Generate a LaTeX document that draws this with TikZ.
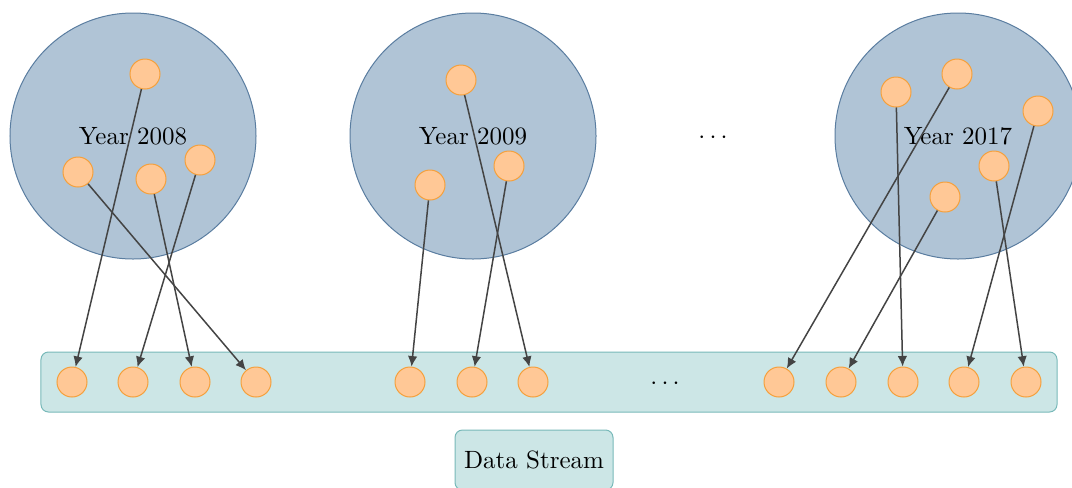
\documentclass[tikz,border=0pt]{standalone}
\usetikzlibrary{arrows.meta}
\definecolor{yearfill}{RGB}{176,196,214}
\definecolor{yeardraw}{RGB}{90,125,160}
\definecolor{dotfill}{RGB}{255,200,150}
\definecolor{dotdraw}{RGB}{245,160,60}
\definecolor{streamfill}{RGB}{204,230,230}
\definecolor{streamdraw}{RGB}{120,185,185}
\definecolor{arrowcol}{RGB}{68,68,68}
\begin{document}
\begin{tikzpicture}[x=0.4pt,y=-0.4pt,
  yearcircle/.style={circle,fill=yearfill,draw=yeardraw,line width=0.4pt,minimum size=98.4pt,inner sep=0pt},
  dot/.style={circle,fill=dotfill,draw=dotdraw,line width=0.4pt,minimum size=12pt,inner sep=0pt},
  streambox/.style={rounded corners=3pt,fill=streamfill,draw=streamdraw,line width=0.4pt},
  flow/.style={draw=arrowcol,line width=0.6pt,-{Latex[length=4.2pt,width=3.8pt]}}]
\useasboundingbox (0,0) rectangle (1072,487);
% year circles
\node[yearcircle] (y2008) at (133,136) {Year 2008};
\node[yearcircle] (y2009) at (473,136) {Year 2009};
\node[yearcircle] (y2017) at (958,136) {Year 2017};
\node (topdots) at (713,138) {$\cdots$};
% stream
\node[streambox,minimum width=406.4pt,minimum height=24pt,inner sep=0pt] (stream) at (549,382) {};
\node[streambox,minimum width=63.2pt,minimum height=24pt] (label) at (534,460) {Data Stream};
% dots in circles
\node[dot] (a1) at (145,74) {};
\node[dot] (a2) at (78,172) {};
\node[dot] (a3) at (151,179) {};
\node[dot] (a4) at (200,160) {};
\node[dot] (b1) at (461,80) {};
\node[dot] (b2) at (430,185) {};
\node[dot] (b3) at (509,166) {};
\node[dot] (c1) at (896,92) {};
\node[dot] (c2) at (957,74) {};
\node[dot] (c3) at (1038,111) {};
\node[dot] (c4) at (994,166) {};
\node[dot] (c5) at (945,197) {};
% dots in stream
\node[dot] (s1) at (72,382) {};
\node[dot] (s2) at (133,382) {};
\node[dot] (s3) at (195,382) {};
\node[dot] (s4) at (256,382) {};
\node[dot] (s5) at (410,382) {};
\node[dot] (s6) at (472,382) {};
\node[dot] (s7) at (533,382) {};
\node (streamdots) at (665,384) {$\cdots$};
\node[dot] (s8) at (779,382) {};
\node[dot] (s9) at (841,382) {};
\node[dot] (s10) at (903,382) {};
\node[dot] (s11) at (964,382) {};
\node[dot] (s12) at (1026,382) {};
% arrows
\draw[flow] (a1) -- (s1);
\draw[flow] (a2) -- (s4);
\draw[flow] (a3) -- (s3);
\draw[flow] (a4) -- (s2);
\draw[flow] (b2) -- (s5);
\draw[flow] (b3) -- (s6);
\draw[flow] (b1) -- (s7);
\draw[flow] (c2) -- (s8);
\draw[flow] (c5) -- (s9);
\draw[flow] (c1) -- (s10);
\draw[flow] (c3) -- (s11);
\draw[flow] (c4) -- (s12);
\end{tikzpicture}
\end{document}
